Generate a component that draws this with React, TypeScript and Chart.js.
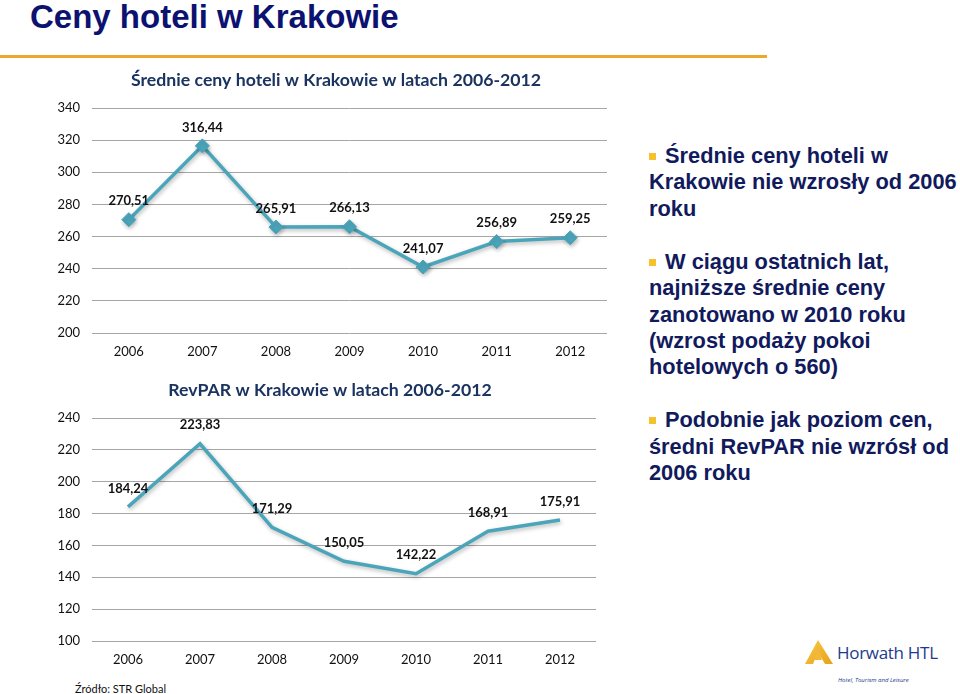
import React, { useEffect, useRef } from "react";
import { Chart, registerables } from "chart.js";

Chart.register(...registerables);

// ---- data ----
const years = ["2006", "2007", "2008", "2009", "2010", "2011", "2012"];
const avgPrices = [270.51, 316.44, 265.91, 266.13, 241.07, 256.89, 259.25];
const revparValues = [184.24, 223.83, 171.29, 150.05, 142.22, 168.91, 175.91];
const priceAxis = [200, 340, 20]; // min, max, step
const revparAxis = [100, 240, 20]; // min, max, step
const priceTitle = "Średnie ceny hoteli w Krakowie w latach 2006-2012";
const revparTitle = "RevPAR w Krakowie w latach 2006-2012";
const bullets = [
  ["Średnie ceny hoteli w", "Krakowie nie wzrosły od 2006", "roku"],
  [
    "W ciągu ostatnich lat,",
    "najniższe średnie ceny",
    "zanotowano w 2010 roku",
    "(wzrost podaży pokoi",
    "hotelowych o 560)",
  ],
  ["Podobnie jak poziom cen,", "średni RevPAR nie wzrósł od", "2006 roku"],
];

const LINE = "#4BA5BA";
const NAVY = "#1A3360";
const CHART_FONT = "Lato, 'Open Sans', sans-serif";

const valueLabelPlugin = {
  id: "valueLabels",
  afterDatasetsDraw(chart: any) {
    const ctx = chart.ctx;
    ctx.save();
    ctx.font = `bold 13px ${CHART_FONT}`;
    ctx.fillStyle = "#111";
    ctx.textAlign = "center";
    ctx.textBaseline = "middle";
    chart.data.datasets.forEach((ds: any, i: number) => {
      const meta = chart.getDatasetMeta(i);
      meta.data.forEach((pt: any, j: number) => {
        const v = ds.data[j] as number;
        ctx.fillText(v.toFixed(2).replace(".", ","), pt.x, pt.y - 18.5);
      });
    });
    ctx.restore();
  },
};

const shadowPlugin = {
  id: "lineShadow",
  beforeDatasetDraw(chart: any) {
    const ctx = chart.ctx;
    ctx.save();
    ctx.shadowColor = "rgba(0,0,0,0.28)";
    ctx.shadowBlur = 4;
    ctx.shadowOffsetX = 1;
    ctx.shadowOffsetY = 2;
  },
  afterDatasetDraw(chart: any) {
    chart.ctx.restore();
  },
};

const plotTitlePlugin = {
  id: "plotTitle",
  afterDraw(chart: any, _args: any, opts: any) {
    const ctx = chart.ctx;
    const a = chart.chartArea;
    ctx.save();
    ctx.font = `bold 17.7px ${CHART_FONT}`;
    ctx.fillStyle = NAVY;
    ctx.textAlign = "center";
    ctx.textBaseline = "middle";
    ctx.fillText(opts.text, (a.left + a.right) / 2 + opts.dx, opts.y);
    ctx.restore();
  },
};

type LCProps = {
  values: number[];
  axis: number[];
  title: string;
  titleDx: number;
  titleY: number;
  markers: boolean;
  left: number;
  top: number;
  width: number;
  height: number;
  pad: { top: number; right: number; bottom: number };
};

function LineChart(p: LCProps) {
  const ref = useRef<HTMLCanvasElement | null>(null);
  useEffect(() => {
    if (!ref.current) return;
    const chart = new Chart(ref.current, {
      type: "line",
      data: {
        labels: years,
        datasets: [
          {
            data: p.values,
            borderColor: LINE,
            backgroundColor: LINE,
            borderWidth: 3.5,
            pointStyle: "rectRot",
            pointRadius: p.markers ? 7 : 0,
            pointBorderWidth: 1,
            pointBorderColor: LINE,
            pointBackgroundColor: LINE,
            tension: 0,
            fill: false,
          },
        ],
      },
      options: {
        animation: false,
        responsive: false,
        maintainAspectRatio: false,
        devicePixelRatio: 1,
        layout: { padding: { left: 0, ...p.pad } },
        plugins: {
          legend: { display: false },
          tooltip: { enabled: false },
          title: { display: false },
          plotTitle: { text: p.title, dx: p.titleDx, y: p.titleY },
        } as any,
        scales: {
          x: {
            offset: true,
            grid: { display: false, drawTicks: false },
            border: { display: false },
            ticks: { font: { family: CHART_FONT, size: 13 }, color: "#111", padding: 11 },
            afterFit: (s: any) => {
              s.height = 30;
            },
          },
          y: {
            min: p.axis[0],
            max: p.axis[1],
            ticks: {
              stepSize: p.axis[2],
              font: { family: CHART_FONT, size: 13 },
              color: "#111",
              padding: 12,
            },
            grid: { color: "#A6A6A6", lineWidth: 1, drawTicks: false },
            border: { display: false },
            afterFit: (s: any) => {
              s.width = 52;
            },
          },
        },
      },
      plugins: [shadowPlugin, valueLabelPlugin, plotTitlePlugin],
    });
    return () => chart.destroy();
  }, []);
  return (
    <canvas
      ref={ref}
      width={p.width}
      height={p.height}
      style={{
        position: "absolute",
        left: p.left,
        top: p.top,
        width: p.width,
        height: p.height,
      }}
    />
  );
}

export default function App() {
  return (
    <div
      style={{
        position: "fixed",
        left: 0,
        top: 0,
        width: 960,
        height: 694,
        background: "#fff",
        overflow: "hidden",
      }}
    >
      <div
        style={{
          position: "absolute",
          left: 30,
          top: 0,
          font: "bold 33px 'Liberation Sans', Arial, sans-serif",
          lineHeight: "33px",
          color: "#0C1270",
          whiteSpace: "nowrap",
        }}
      >
        Ceny hoteli w Krakowie
      </div>
      <div
        style={{
          position: "absolute",
          left: 0,
          top: 55,
          width: 767,
          height: 3,
          background: "#EBA92B",
        }}
      />
      <LineChart
        values={avgPrices}
        axis={priceAxis}
        title={priceTitle}
        titleDx={-13.5}
        titleY={14}
        markers={true}
        left={40}
        top={66}
        width={580}
        height={300}
        pad={{ top: 42, right: 13, bottom: 3 }}
      />
      <LineChart
        values={revparValues}
        axis={revparAxis}
        title={revparTitle}
        titleDx={-14}
        titleY={20}
        markers={false}
        left={40}
        top={370}
        width={580}
        height={304}
        pad={{ top: 48, right: 24, bottom: 3 }}
      />
      <div
        style={{
          position: "absolute",
          left: 75,
          top: 682,
          font: "11px Lato, sans-serif",
          color: "#111",
          whiteSpace: "nowrap",
        }}
      >
        Źródło: STR Global
      </div>
      <div
        style={{
          position: "absolute",
          left: 649,
          top: 143,
          font: "bold 21.8px 'Liberation Sans', Arial, sans-serif",
          lineHeight: "26.4px",
          color: "#111A5C",
          whiteSpace: "nowrap",
        }}
      >
        {bullets.map((lines, i) => (
          <div key={i} style={{ marginBottom: i < bullets.length - 1 ? 26.6 : 0 }}>
            {lines.map((ln, j) => (
              <div key={j} style={{ height: 26.4 }}>
                {j === 0 && (
                  <span
                    style={{
                      display: "inline-block",
                      width: 7,
                      height: 7,
                      background: "#F5C22B",
                      marginRight: 9,
                      verticalAlign: "3px",
                    }}
                  />
                )}
                {ln}
              </div>
            ))}
          </div>
        ))}
      </div>
      <svg
        style={{ position: "absolute", left: 803, top: 638 }}
        width={34}
        height={30}
        viewBox="0 0 34 30"
      >
        <defs>
          <linearGradient id="hg" x1="0" y1="0" x2="1" y2="1">
            <stop offset="0" stopColor="#F7C948" />
            <stop offset="1" stopColor="#E8A21A" />
          </linearGradient>
        </defs>
        <path d="M15 2 L2 26 L10 26 L15 14 L22 26 L30 26 Z" fill="url(#hg)" />
        <path d="M15 10 L11 22 L19 22 Z" fill="#F3B73A" />
      </svg>
      <div
        style={{
          position: "absolute",
          left: 837,
          top: 641,
          font: "17px 'Open Sans', sans-serif",
          color: "#1D3A8E",
          whiteSpace: "nowrap",
          letterSpacing: "-0.3px",
        }}
      >
        Horwath HTL
      </div>
      <div
        style={{
          position: "absolute",
          left: 838,
          top: 676,
          font: "italic 6px 'Open Sans', sans-serif",
          color: "#1D3A8E",
          whiteSpace: "nowrap",
        }}
      >
        Hotel, Tourism and Leisure
      </div>
    </div>
  );
}
